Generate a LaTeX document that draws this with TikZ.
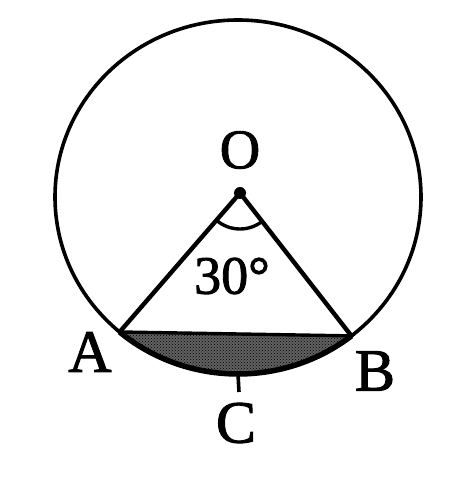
\documentclass[tikz,border=0pt]{standalone}
\usepackage{fontspec}
\setmainfont[FakeBold=1.6]{Liberation Serif}
\usetikzlibrary{patterns,calc}
\begin{document}
\begin{tikzpicture}[x=1pt,y=1pt,
  lbl/.style={inner sep=0pt,font=\fontsize{60}{60}\selectfont},
  lblO/.style={inner sep=0pt,font=\fontsize{56}{56}\selectfont},
  ang/.style={inner sep=0pt,font=\fontsize{54}{54}\selectfont},
  rim/.style={line width=3.6pt},
  side/.style={line width=4.4pt},
  seg/.style={line width=3.4pt,preaction={fill=black!62},pattern=crosshatch dots,pattern color=black}]
\useasboundingbox (0,0) rectangle (474,493);
\coordinate (M) at (238,296);
\coordinate (O) at (240,300);
\coordinate (A) at ($(M)+(229.7:183 and 177)$);
\coordinate (B) at ($(M)+(308.3:183 and 177)$);
\coordinate (Cb) at ($(M)+(270:183 and 177)$);
\coordinate (Ct) at ($(Cb)+(1,-18)$);
% shaded segment
\draw[seg] (A) arc[start angle=229.7, end angle=308.3, x radius=183, y radius=177] -- cycle;
\draw[line width=5.5pt] (A) arc[start angle=229.7, end angle=308.3, x radius=183, y radius=177];
% circle
\draw[rim] (M) ellipse[x radius=183, y radius=177];
% radii
\draw[side, line join=round] (A) -- (O) -- (B);
\fill (O) circle (6);
% angle mark
\draw[line width=3.4pt] ($(O)+(229.1:36)$) arc[start angle=229.1, end angle=307.9, radius=36];
% tick at C
\draw[line width=3.6pt] (Cb) -- (Ct);
% labels
\node[lblO] (lo) at (240,343) {O};
\node[lbl] (la) at (90,141) {A};
\node[lbl] (lb) at (375,122) {B};
\node[lbl] (lc) at (236,70) {C};
\node[ang] (lang) at (232,217) {30°};
\end{tikzpicture}
\end{document}
